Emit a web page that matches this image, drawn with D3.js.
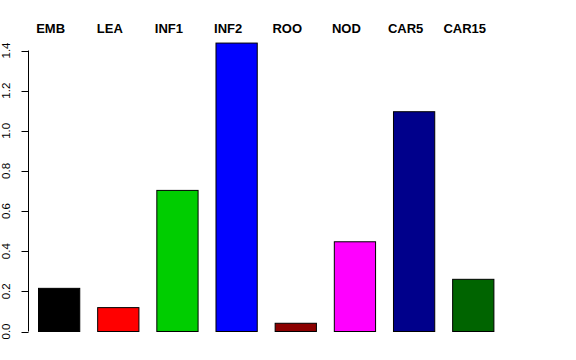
<!DOCTYPE html>
<html>
<head>
<meta charset="utf-8">
<script src="https://cdn.jsdelivr.net/npm/d3@7"></script>
<style>
  body { margin: 0; background: #fff; }
  svg { display: block; font-family: "Liberation Sans", Arial, sans-serif; }
</style>
</head>
<body>
<div id="chart-area"></div>
<script>
// data
var categories = ['EMB', 'LEA', 'INF1', 'INF2', 'ROO', 'NOD', 'CAR5', 'CAR15'];
var values = [0.215, 0.119, 0.703, 1.437, 0.041, 0.447, 1.095, 0.260];
var colors = ['#000000', '#ff0000', '#00cd00', '#0000ff', '#8b0000', '#ff00ff', '#00008b', '#006400'];
var yTicks = [0, 0.2, 0.4, 0.6, 0.8, 1.0, 1.2, 1.4];

var width = 576;
var height = 360;

var svg = d3.select('#chart-area')
  .append('svg')
  .attr('width', width)
  .attr('height', height);

// bars: width 1, space 0.4 (R barplot style)
var x = d3.scaleBand()
  .domain(categories)
  .range([38, 494.4])
  .paddingInner(0.4 / 1.4)
  .paddingOuter(0);

var y = d3.scaleLinear()
  .domain([0, 1.4])
  .range([331.5, 50.5]);

// y axis, R style with rotated labels
var yAxis = svg.append('g')
  .attr('transform', 'translate(28.5, 0)');

yAxis.append('line')
  .attr('x1', 0).attr('x2', 0)
  .attr('y1', y(0)).attr('y2', y(1.4))
  .attr('stroke', '#000');

yAxis.selectAll('.tick')
  .data(yTicks)
  .enter()
  .append('line')
  .attr('x1', -7).attr('x2', 0)
  .attr('y1', function (d) { return Math.round(y(d)) + 0.5; })
  .attr('y2', function (d) { return Math.round(y(d)) + 0.5; })
  .attr('stroke', '#000');

yAxis.selectAll('text')
  .data(yTicks)
  .enter()
  .append('text')
  .attr('transform', function (d) {
    return 'translate(-18.5,' + y(d) + ') rotate(-90)';
  })
  .attr('text-anchor', 'middle')
  .attr('font-size', '11.5px')
  .attr('fill', '#000')
  .text(function (d) { return d.toFixed(1); });

// bars
svg.selectAll('rect')
  .data(values)
  .enter()
  .append('rect')
  .attr('x', function (d, i) { return x(categories[i]) + 0.5; })
  .attr('y', function (d) { return y(d); })
  .attr('width', x.bandwidth() - 1)
  .attr('height', function (d) { return y(0) - y(d); })
  .attr('fill', function (d, i) { return colors[i]; })
  .attr('stroke', '#000')
  .attr('stroke-width', 1);

// category labels along the top
svg.selectAll('.cat-label')
  .data(categories)
  .enter()
  .append('text')
  .attr('class', 'cat-label')
  .attr('x', function (d) { return x(d) + x.bandwidth() / 2 - 8.5; })
  .attr('y', 33)
  .attr('text-anchor', 'middle')
  .attr('font-size', '13px')
  .attr('font-weight', 'bold')
  .attr('fill', '#000')
  .text(function (d) { return d; });
</script>
</body>
</html>
